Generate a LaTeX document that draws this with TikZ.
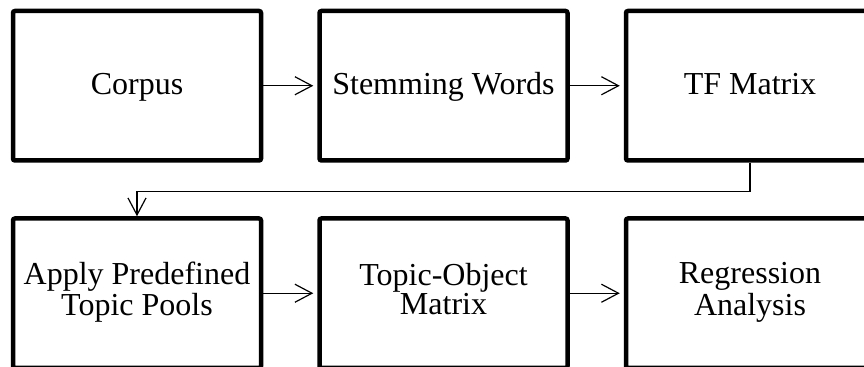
\documentclass[tikz,border=0pt]{standalone}
\usepackage{fontspec}
\setmainfont{Liberation Serif}
\usetikzlibrary{arrows.meta}
\begin{document}
\begin{tikzpicture}[x=0.5pt,y=-0.5pt,
		stage/.style={draw, rectangle, line width=2.25pt, rounded corners=1pt, minimum width=124pt, minimum height=74.75pt, inner sep=0pt, align=center, font=\fontsize{16}{14.5}\selectfont},
		oneline/.style={text height=0.85em, text depth=0pt},
		twoline/.style={execute at begin node=\strut, execute at end node=\strut},
		flow/.style={-{Straight Barb[length=8.5pt,width=9pt]}, line width=0.6pt}]
	\useasboundingbox (0,0) rectangle (864,367);

	% First row
	\node[stage, oneline] (corpus) at (137,85.75) {Corpus};
	\node[stage, oneline] (stem) at (443.5,85.75) {Stemming Words};
	\node[stage, oneline] (tf) at (750,85.75) {TF Matrix};

	% Second row
	\node[stage, twoline] (pools) at (137,293.25) {Apply Predefined\\Topic Pools};
	\node[stage, twoline] (topobj) at (443.5,293.25) {Topic-Object\\Matrix};
	\node[stage, twoline] (regr) at (750,293.25) {Regression\\Analysis};

	% Arrows
	\draw[flow, shorten >=2pt] (corpus) -- (stem);
	\draw[flow, shorten >=2pt] (stem) -- (tf);
	\draw[flow] (tf.south) -- ++(0,28.5) -| (pools.north);
	\draw[flow, shorten >=2pt] (pools) -- (topobj);
	\draw[flow, shorten >=2pt] (topobj) -- (regr);
\end{tikzpicture}
\end{document}
